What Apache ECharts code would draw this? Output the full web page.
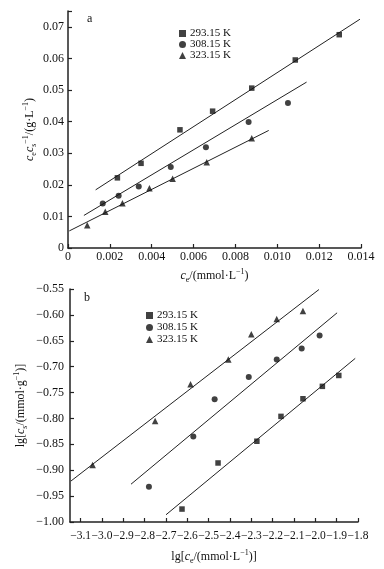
<!DOCTYPE html>
<html>
<head>
<meta charset="utf-8">
<script src="https://cdn.jsdelivr.net/npm/echarts@6/dist/echarts.min.js"></script>
<style>
  html, body { margin: 0; padding: 0; background: #fff; }
  #chart { width: 384px; height: 569px; }
</style>
</head>
<body>
<div id="chart"></div>
<script>
    // 温度（图例）
    var tempNames = ['293.15 K', '308.15 K', '323.15 K'];

    // 图 a: ce/cs ~ ce
    var aX293 = [0.00236, 0.00349, 0.00535, 0.00691, 0.00878, 0.01086, 0.01296];
    var aY293 = [0.0222, 0.0268, 0.0374, 0.0433, 0.0506, 0.0595, 0.0675];
    var aX308 = [0.00166, 0.00242, 0.00338, 0.00491, 0.00659, 0.00863, 0.01051];
    var aY308 = [0.0141, 0.0165, 0.0195, 0.0256, 0.0319, 0.0399, 0.0459];
    var aX323 = [0.00092, 0.00178, 0.0026, 0.00389, 0.0050, 0.00663, 0.00878];
    var aY323 = [0.0072, 0.0115, 0.0142, 0.0189, 0.0219, 0.0271, 0.0347];
    // 拟合直线两端
    var aFitX293 = [0.00132, 0.01395], aFitY293 = [0.0184, 0.0724];
    var aFitX308 = [0.00076, 0.0114], aFitY308 = [0.0103, 0.0525];
    var aFitX323 = [0.00006, 0.00959], aFitY323 = [0.0054, 0.0372];
    // 刻度
    var aTickX = [0, 0.002, 0.004, 0.006, 0.008, 0.010, 0.012, 0.014];
    var aTickY = [0, 0.01, 0.02, 0.03, 0.04, 0.05, 0.06, 0.07, 0.075];
    var aLabelY = [0, 0.01, 0.02, 0.03, 0.04, 0.05, 0.06, 0.07];

    // 图 b: lg cs ~ lg ce
    var bX293 = [-2.625, -2.456, -2.274, -2.161, -2.058, -1.967, -1.890];
    var bY293 = [-0.975, -0.886, -0.844, -0.796, -0.762, -0.738, -0.717];
    var bX308 = [-2.780, -2.572, -2.472, -2.312, -2.181, -2.064, -1.980];
    var bY308 = [-0.932, -0.835, -0.763, -0.720, -0.686, -0.665, -0.640];
    var bX323 = [-3.044, -2.751, -2.585, -2.408, -2.300, -2.181, -2.058];
    var bY323 = [-0.890, -0.805, -0.734, -0.686, -0.6375, -0.608, -0.5925];
    var bFitX293 = [-2.700, -1.813], bFitY293 = [-0.986, -0.684];
    var bFitX308 = [-2.864, -1.898], bFitY308 = [-0.927, -0.596];
    var bFitX323 = [-3.146, -1.983], bFitY323 = [-0.921, -0.551];
    var bTickX = [-3.1, -3.0, -2.9, -2.8, -2.7, -2.6, -2.5, -2.4, -2.3, -2.2, -2.1, -2.0, -1.9, -1.8];
    var bTickY = [-1.00, -0.95, -0.90, -0.85, -0.80, -0.75, -0.70, -0.65, -0.60, -0.55];

    var serif = '"Liberation Serif", "Times New Roman", serif';
    var ink = '#111';

    function zip(xs, ys) {
        return xs.map(function (x, i) { return [x, ys[i]]; });
    }

    function minus(s) {
        return s.replace('-', '\u2212');
    }

    // 坐标轴名称的上下标
    var nameRich = {
        i: { fontFamily: serif, fontSize: 12, fontStyle: 'italic', color: ink, lineHeight: 16 },
        n: { fontFamily: serif, fontSize: 12, color: ink, lineHeight: 16 },
        sub: { fontFamily: serif, fontSize: 8, color: ink, verticalAlign: 'bottom' },
        sup: { fontFamily: serif, fontSize: 8, color: ink, verticalAlign: 'top' }
    };

    function axisBase(labelMargin, ticks, labels) {
        return {
            type: 'value',
            nameLocation: 'middle',
            nameMoveOverlap: false,
            nameTextStyle: { rich: nameRich },
            axisLine: { show: true, onZero: false, lineStyle: { color: '#222', width: 1.5 } },
            axisTick: { show: true, inside: true, length: 4, customValues: ticks, lineStyle: { color: '#222', width: 1.2 } },
            axisLabel: { fontFamily: serif, fontSize: 12, color: ink, margin: labelMargin, customValues: labels },
            splitLine: { show: false }
        };
    }

    var xA = axisBase(3, aTickX, aTickX);
    xA.gridIndex = 0;
    xA.min = 0; xA.max = 0.014;
    xA.name = '{i|c}{sub|e}{n|/(mmol·L}{sup|\u22121}{n|)}';
    xA.nameGap = 20;
    xA.axisLabel.formatter = function (v) { return v === 0 ? '0' : v.toFixed(3); };

    var yA = axisBase(4, aTickY, aLabelY);
    yA.gridIndex = 0;
    yA.min = 0; yA.max = 0.075;
    yA.name = '{i|c}{sub|e}{i|c}{sub|s}{sup|\u22121}{n|/(g·L}{sup|\u22121}{n|)}';
    yA.nameGap = 30;
    yA.axisLabel.formatter = function (v) { return v === 0 ? '0' : v.toFixed(2); };

    var xB = axisBase(8, bTickX, bTickX);
    xB.gridIndex = 1;
    xB.min = -3.15; xB.max = -1.8;
    xB.name = '{n|lg[}{i|c}{sub|e}{n|/(mmol·L}{sup|\u22121}{n|)]}';
    xB.nameGap = 27;
    xB.axisLabel.fontSize = 11.5;
    xB.axisLabel.formatter = function (v) { return minus(v.toFixed(1)); };

    var yB = axisBase(6, bTickY, bTickY);
    yB.gridIndex = 1;
    yB.min = -1.0; yB.max = -0.55;
    yB.name = '{n|lg[}{i|c}{sub|s}{n|/(mmol·g}{sup|\u22121}{n|)]}';
    yB.nameGap = 41;
    yB.axisLabel.formatter = function (v) { return minus(v.toFixed(2)); };

    var symbols = ['rect', 'circle', 'triangle'];
    var sizes = [5.5, 6, 6.5];

    function scatter(i, idx, data) {
        return {
            name: tempNames[i],
            type: 'scatter',
            xAxisIndex: idx, yAxisIndex: idx,
            symbol: symbols[i],
            symbolSize: sizes[i],
            itemStyle: { color: '#111' },
            z: 3,
            data: data
        };
    }

    function fitLine(idx, data) {
        return {
            name: 'fit',
            type: 'line',
            xAxisIndex: idx, yAxisIndex: idx,
            symbol: 'none',
            lineStyle: { color: '#222', width: 1 },
            z: 2,
            silent: true,
            data: data
        };
    }

    function legendAt(left, top, gap) {
        return {
            data: tempNames,
            orient: 'vertical',
            left: left, top: top,
            itemWidth: 7, itemHeight: 7,
            itemGap: gap,
            textStyle: { fontFamily: serif, fontSize: 11, color: ink, padding: [0, 0, 0, -1] }
        };
    }

    var myChart = echarts.init(document.getElementById('chart'));
    myChart.setOption({
        backgroundColor: '#fff',
        animation: false,
        title: [
            { text: 'a', left: 82, top: 8, textStyle: { fontFamily: serif, fontSize: 12, fontWeight: 'normal', color: ink } },
            { text: 'b', left: 79, top: 287, textStyle: { fontFamily: serif, fontSize: 12, fontWeight: 'normal', color: ink } }
        ],
        legend: [legendAt(174, 23, 0), legendAt(141, 305, 1)],
        grid: [
            { left: 68, right: 23, top: 11, bottom: 321 },
            { left: 70, right: 26, top: 289, bottom: 47 }
        ],
        xAxis: [xA, xB],
        yAxis: [yA, yB],
        series: [
            fitLine(0, zip(aFitX293, aFitY293)),
            fitLine(0, zip(aFitX308, aFitY308)),
            fitLine(0, zip(aFitX323, aFitY323)),
            scatter(0, 0, zip(aX293, aY293)),
            scatter(1, 0, zip(aX308, aY308)),
            scatter(2, 0, zip(aX323, aY323)),
            fitLine(1, zip(bFitX293, bFitY293)),
            fitLine(1, zip(bFitX308, bFitY308)),
            fitLine(1, zip(bFitX323, bFitY323)),
            scatter(0, 1, zip(bX293, bY293)),
            scatter(1, 1, zip(bX308, bY308)),
            scatter(2, 1, zip(bX323, bY323))
        ]
    });
</script>
</body>
</html>
